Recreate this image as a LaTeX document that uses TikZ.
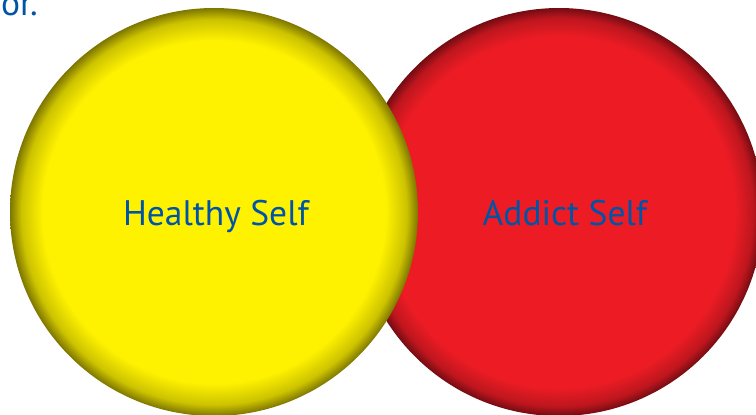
\documentclass[tikz,border=0pt]{standalone}
\usepackage{fontspec}
\setmainfont{PT Sans}
\definecolor{selfblue}{RGB}{0,84,166}
\definecolor{healthyyellow}{RGB}{255,242,0}
\definecolor{healthymid}{RGB}{205,195,0}
\definecolor{healthyedge}{RGB}{125,118,0}
\definecolor{addictred}{RGB}{237,28,36}
\definecolor{addictmid}{RGB}{190,22,30}
\definecolor{addictedge}{RGB}{115,12,18}
\pgfdeclareradialshading{healthyglow}{\pgfpoint{0bp}{0bp}}{%
  color(0bp)=(healthyyellow); color(21bp)=(healthyyellow);
  color(23.6bp)=(healthymid); color(25bp)=(healthyedge); color(50bp)=(healthyedge)}
\pgfdeclareradialshading{addictglow}{\pgfpoint{0bp}{0bp}}{%
  color(0bp)=(addictred); color(21.5bp)=(addictred);
  color(23.8bp)=(addictmid); color(25bp)=(addictedge); color(50bp)=(addictedge)}
\tikzstyle{self}=[circle,minimum size=408pt,inner sep=0pt]
\tikzstyle{selftext}=[text=selfblue,font=\fontsize{35.5}{42}\selectfont,inner sep=0pt]

\begin{document}
\begin{tikzpicture}[x=1pt,y=-1pt]
  \useasboundingbox (0,0) rectangle (756,415);

  % the two selves, yellow on top
  \node[self,shading=addictglow] (addict) at (559,212) {};
  \node[self,shading=healthyglow] (healthy) at (214,212) {};

  \node[selftext,anchor=base] (healthy text) at (216,225) {Healthy Self};
  \node[selftext,anchor=base] (addict text) at (565,225) {Addict Self};

  \node[selftext,anchor=base west] (or text) at (1,16) {or.};
\end{tikzpicture}
\end{document}
